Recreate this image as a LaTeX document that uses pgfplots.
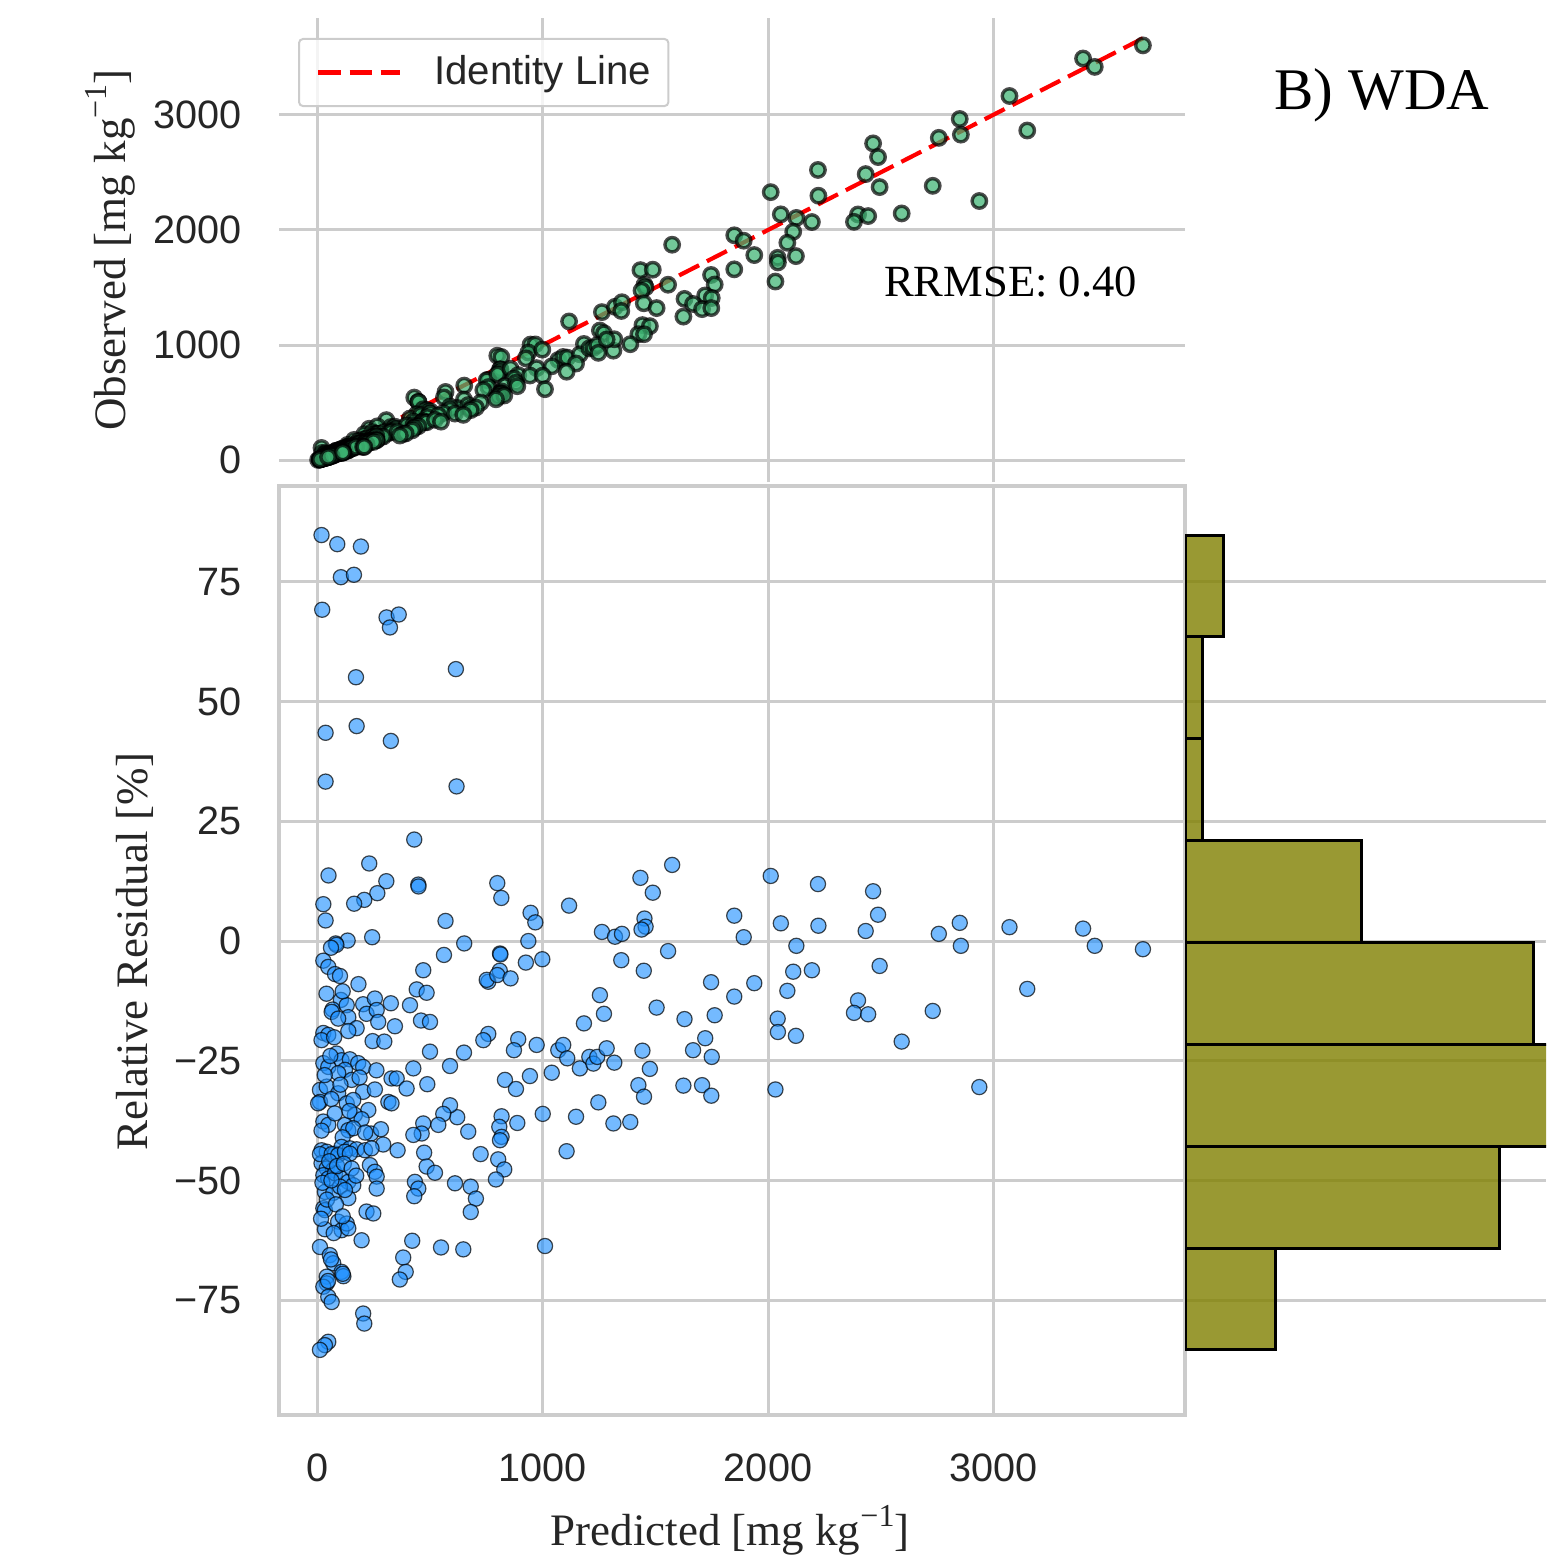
\documentclass[border=0pt]{standalone}
\usepackage{fontspec}
\setmainfont{Liberation Serif}
\newfontfamily\sansf{Liberation Sans}
\usepackage{pgfplots}
\pgfplotsset{compat=1.18}
\usepackage{pgfplotstable}

\definecolor{gridgray}{RGB}{204,204,204}
\definecolor{txtgray}{RGB}{38,38,38}
\definecolor{seagreen}{RGB}{60,179,113}
\definecolor{dodger}{RGB}{30,144,255}
\definecolor{olivebar}{RGB}{128,128,0}

\newcommand\tickfont{\sansf\fontsize{9.9}{11.9}\selectfont}
\newcommand\legfont{\sansf\fontsize{10.05}{12}\selectfont}
\newcommand\labfont{\fontsize{11.25}{13.5}\selectfont}
\newcommand\unitsup{\raisebox{0.42em}{\fontsize{8}{9}\selectfont −1}}

% predicted vs relative residual (%)
\pgfplotstableread{
p r
16 84.8
86 82.9
191 82.4
102 76.0
160 76.5
19 69.2
305 67.6
359 68.2
320 65.5
613 56.8
169 55.1
34 43.5
172 44.9
324 41.8
34 33.3
616 32.3
428 21.2
228 16.2
47 13.7
304 12.5
264 10.0
206 8.6
161 7.8
446 11.8
447 11.4
24 7.7
34 4.3
797 12.1
815 9.0
1116 7.4
567 4.2
945 5.9
966 3.9
241 0.8
132 0.1
935 0.0
1574 15.9
1433 13.2
1488 10.1
1451 4.7
1456 3.0
1438 2.4
1262 1.9
1320 0.9
1351 1.5
1850 5.3
1892 0.8
2012 13.6
2222 11.9
2467 10.4
2489 5.5
2057 3.7
2224 3.2
2434 2.1
2852 3.8
2759 1.5
3073 2.9
3400 2.6
79 -0.5
82 -0.8
58 -1.4
24 -4.1
46 -5.4
650 -0.5
560 -2.9
809 -2.6
811 -2.8
924 -4.5
997 -3.8
468 -6.1
808 -6.2
2857 -1.0
3452 -1.0
3666 -1.7
2126 -1.0
1556 -2.1
1348 -4.0
1448 -6.2
2496 -5.2
2195 -6.1
2112 -6.4
2086 -10.4
1747 -8.6
1939 -8.8
1850 -11.6
3152 -10.0
1505 -13.9
1629 -16.3
1763 -15.5
1721 -20.3
2043 -16.2
2044 -19.0
2124 -19.8
2400 -12.4
2382 -15.0
2445 -15.3
2732 -14.6
2594 -21.0
757 -8.5
750 -8.1
797 -7.1
856 -7.8
1253 -11.3
1271 -15.2
1182 -17.2
757 -19.4
735 -20.7
890 -20.5
76 -6.9
98 -7.3
439 -10.1
483 -10.8
102 -12.3
65 -14.3
61 -14.8
128 -13.4
201 -13.2
253 -12.0
324 -13.0
409 -13.4
216 -15.2
261 -14.4
135 -15.9
90 -16.2
268 -16.9
342 -17.8
458 -16.6
498 -16.9
172 -18.2
135 -18.8
24 -19.2
46 -19.6
16 -20.7
72 -20.1
243 -20.9
295 -21.0
110 -10.5
180 -9.0
38 -11.0
2033 -31.0
2939 -30.5
1442 -22.9
1667 -22.8
1750 -24.2
1475 -26.7
1424 -30.1
1449 -32.5
1624 -30.2
1707 -30.1
1748 -32.3
1313 -38.1
1388 -37.8
1317 -25.4
871 -22.8
972 -21.7
1068 -22.8
1090 -21.7
1108 -24.5
1164 -26.6
1206 -24.2
1224 -25.6
1241 -24.2
1283 -22.4
649 -23.3
831 -29.0
880 -30.9
942 -28.2
1039 -27.5
1246 -33.7
619 -36.8
668 -39.8
816 -36.6
806 -38.8
816 -40.9
809 -41.6
886 -38.0
999 -36.1
1147 -36.7
498 -23.1
24 -25.5
46 -26.3
83 -23.5
105 -24.9
142 -24.7
179 -25.5
201 -26.3
120 -26.9
90 -27.6
150 -29.0
424 -26.6
327 -28.7
350 -28.7
394 -30.8
486 -29.9
587 -26.1
9 -31.1
39 -30.4
90 -31.8
201 -31.5
253 -31.0
9 -33.6
1 -33.9
128 -33.9
157 -33.2
313 -33.6
327 -33.9
224 -35.3
164 -36.3
194 -37.2
587 -34.3
557 -36.1
24 -37.7
46 -38.4
16 -39.6
120 -38.4
135 -39.5
157 -39.1
236 -40.2
280 -39.3
468 -38.1
461 -40.2
424 -40.5
535 -38.4
290 -42.5
30 -28.0
60 -33.0
75 -36.0
100 -30.0
140 -35.5
185 -28.5
210 -40.0
55 -24.0
110 -41.0
260 -27.0
16 -43.7
39 -44.0
76 -44.4
105 -43.0
142 -43.3
172 -43.5
209 -43.7
238 -43.3
354 -43.7
472 -44.2
16 -46.4
39 -47.5
68 -47.8
24 -48.9
46 -49.6
76 -48.5
105 -49.6
135 -50.3
157 -51.0
31 -52.4
68 -52.6
98 -51.3
135 -53.7
231 -46.8
253 -48.2
261 -49.2
261 -51.7
483 -47.1
520 -48.4
431 -50.3
446 -51.7
428 -53.3
609 -50.6
24 -55.8
31 -56.2
216 -56.5
246 -56.9
31 -60.2
90 -58.6
105 -60.4
128 -59.0
135 -60.0
194 -62.5
9 -63.9
419 -62.6
547 -64.0
1105 -43.9
723 -44.5
801 -45.6
828 -47.7
791 -49.8
679 -51.3
702 -53.8
679 -56.6
1009 -63.7
9 -44.5
61 -44.5
90 -44.7
120 -44.0
142 -44.4
50 -46.0
85 -47.0
115 -46.5
150 -47.5
20 -50.5
60 -50.0
120 -52.0
170 -49.0
40 -54.0
80 -55.0
110 -57.5
14 -58.0
70 -61.0
53 -65.6
68 -67.3
105 -69.1
113 -70.0
39 -70.1
39 -71.5
24 -72.2
46 -74.3
61 -75.4
379 -66.1
390 -69.1
364 -70.7
201 -77.8
206 -79.9
46 -83.7
31 -84.4
9 -85.4
646 -64.4
58 -66.5
110 -69.5
45 -71.0
}\resdata

% predicted vs observed, upper panel
\pgfplotstableread{
p o
16 105
19 62
34 60
34 51
428 543
228 272
47 54
304 347
264 293
206 225
161 175
446 506
447 505
24 26
34 36
797 907
815 896
1116 1205
567 592
945 1004
966 1005
241 243
132 132
935 935
1574 1872
1433 1651
1488 1655
1451 1523
1456 1501
1438 1473
1262 1286
1320 1332
1351 1372
1850 1954
1892 1907
2012 2329
2222 2522
2467 2753
2489 2634
2057 2136
2224 2298
2434 2486
2852 2965
2759 2801
3073 3165
3400 3491
79 79
82 81
58 57
24 23
46 44
650 647
560 544
809 788
811 789
924 884
997 960
468 441
808 761
2857 2829
3452 3418
3666 3605
2126 2105
1556 1524
1348 1296
1448 1363
2496 2373
2195 2069
2112 1985
2086 1889
1747 1609
1939 1782
1850 1658
3152 2865
1505 1321
1629 1401
1763 1526
1721 1431
2043 1758
2044 1718
2124 1773
2400 2135
2382 2071
2445 2121
2732 2384
2594 2144
757 698
750 694
797 744
856 794
1253 1126
1271 1103
1182 1009
757 634
735 609
890 739
76 71
98 91
439 399
483 436
102 91
65 57
61 53
128 113
201 178
253 226
324 287
409 361
216 187
261 228
135 116
90 77
268 229
342 290
458 393
498 426
172 146
135 114
24 20
46 38
16 13
72 60
243 201
295 244
110 100
180 165
38 34
2033 1552
2939 2252
1442 1173
1667 1357
1750 1409
1475 1164
1424 1094
1449 1094
1624 1247
1707 1312
1748 1321
1313 951
1388 1007
1317 1050
871 709
972 799
1068 870
1090 896
1108 890
1164 919
1206 971
1224 975
1241 999
1283 1048
649 526
831 644
880 672
942 735
1039 815
1246 932
619 453
668 478
816 597
806 581
816 579
809 571
886 642
999 734
1147 839
498 405
24 19
46 36
83 67
105 84
142 114
179 143
201 159
120 95
90 71
150 116
424 335
327 254
350 272
394 301
486 374
587 465
9 7
39 30
90 68
201 153
253 193
9 7
1 1
128 96
157 118
313 234
327 244
224 166
164 120
194 141
587 437
557 409
24 17
46 33
16 11
120 87
135 97
157 113
236 168
280 201
468 339
461 329
424 302
535 387
290 204
30 23
60 45
75 55
100 77
140 103
185 144
210 150
55 44
110 78
260 205
16 11
39 27
76 53
105 73
142 99
172 120
209 145
238 166
354 246
472 327
16 11
39 26
68 46
24 16
46 31
76 51
105 70
135 90
157 104
31 20
68 45
98 65
135 88
231 157
253 171
261 175
261 172
483 328
520 350
431 287
446 294
428 279
609 404
24 15
31 20
216 138
246 157
31 19
90 57
105 65
128 81
135 84
194 119
9 5
419 258
547 334
1105 768
723 500
801 550
828 561
791 528
679 449
702 456
679 434
1009 616
9 6
61 42
90 62
120 83
142 98
50 34
85 58
115 79
150 102
20 13
60 40
120 79
170 114
40 26
80 52
110 70
14 9
70 43
53 32
68 41
105 62
113 66
39 23
39 23
24 14
46 26
61 35
379 228
390 231
364 213
201 113
206 115
46 25
31 17
9 5
646 393
58 35
110 65
45 26
}\topdata

\pgfplotsset{
  panel/.style={
    scale only axis, width=226.5pt,
    xmin=-173, xmax=3853,
    xtick={0,1000,2000,3000},
    grid=major,
    major grid style={gridgray, line width=0.75pt},
    major tick length=0pt,
    ticklabel style={font=\tickfont, text=txtgray},
    yticklabel style={anchor=east, inner sep=0pt, xshift=-9.25pt},
  },
}

\begin{document}
\begin{tikzpicture}
\useasboundingbox (0,0) rectangle (386.5pt,-390.75pt);

% upper panel: observed vs predicted
\begin{axis}[panel,
  at={(69.75pt,-120.5pt)}, anchor=south west, height=116pt,
  ymin=-191, ymax=3843,
  ytick={0,1000,2000,3000}, yticklabels={0,1000,2000,3000},
  xticklabels={,,,},
  axis line style={draw=none},
  every axis y label/.style={at={(axis description cs:-0.1865,0.5)}, rotate=90,
    anchor=center, font=\labfont, text=txtgray},
  ylabel={Observed [mg kg\unitsup]},
  legend style={at={(0.021,0.957)}, anchor=north west, draw=gridgray,
    line width=0.5pt, rounded corners=1pt, fill=white, fill opacity=0.8,
    draw opacity=1, text opacity=1, inner xsep=4.3pt, inner ysep=4pt,
    font=\legfont, text=txtgray, nodes={inner sep=0pt},
    /tikz/every odd column/.append style={column sep=8pt}},
  legend image code/.code={\draw[#1] (0pt,0pt) -- (20.5pt,0pt);},
]
\addplot[only marks, mark=*, mark size=1.8pt, forget plot,
  mark options={fill=seagreen, fill opacity=0.72, draw=black, draw opacity=0.7,
  line width=0.85pt}] table[x=p, y=o] {\topdata};
\addplot[red, line width=1.05pt, dash pattern=on 5.6pt off 2.2pt]
  coordinates {(0,0) (3666,3666)};
\addlegendentry{Identity Line}
\node[anchor=base east, inner sep=0pt, font=\fontsize{11.15}{13}\selectfont]
  at (axis cs:3643,1426) {RRMSE: 0.40};
\end{axis}

% lower panel: relative residuals
\begin{axis}[panel,
  at={(69.75pt,-353.75pt)}, anchor=south west, height=232.25pt,
  ymin=-99, ymax=95.05,
  ytick={-75,-50,-25,0,25,50,75},
  yticklabels={−75,−50,−25,0,25,50,75},
  xticklabels={0,1000,2000,3000},
  axis line style={gridgray, line width=0.8pt},
  xticklabel style={anchor=north, inner sep=0pt, yshift=-9.5pt},
  every axis y label/.style={at={(axis description cs:-0.159,0.499)}, rotate=90,
    anchor=center, font=\labfont, text=txtgray},
  every axis x label/.style={at={(axis description cs:0.4978,-0.1238)},
    anchor=center, font=\labfont, text=txtgray},
  ylabel={Relative Residual [\%]},
  xlabel={Predicted [mg kg\unitsup]},
]
\addplot[only marks, mark=*, mark size=1.9pt,
  mark options={fill=dodger, fill opacity=0.62, draw=black, draw opacity=0.7,
  line width=0.3pt}] table[x=p, y=r] {\resdata};
\end{axis}

% marginal histogram of residuals
\begin{axis}[scale only axis,
  at={(296.25pt,-353.75pt)}, anchor=south west,
  width=90.25pt, height=232.25pt,
  xmin=0, xmax=83.8, ymin=-99, ymax=95.05,
  axis line style={draw=none},
  xtick=\empty,
  ytick={-75,-50,-25,0,25,50,75}, yticklabels={,,,,,,},
  major tick length=0pt,
  ymajorgrids, major grid style={gridgray, line width=0.75pt},
]
\addplot[xbar interval, fill=olivebar, fill opacity=0.8, draw=black, line width=0.75pt]
  coordinates {(21,-85.4) (73,-64.125) (95,-42.85) (81,-21.575) (41,-0.3)
               (4,20.975) (4,42.25) (9,63.525) (9,84.8)};
\end{axis}

\node[anchor=base east, inner sep=0pt, font=\fontsize{14.75}{17}\selectfont]
  at (372.5pt,-27.25pt) {B) WDA};
\end{tikzpicture}
\end{document}
